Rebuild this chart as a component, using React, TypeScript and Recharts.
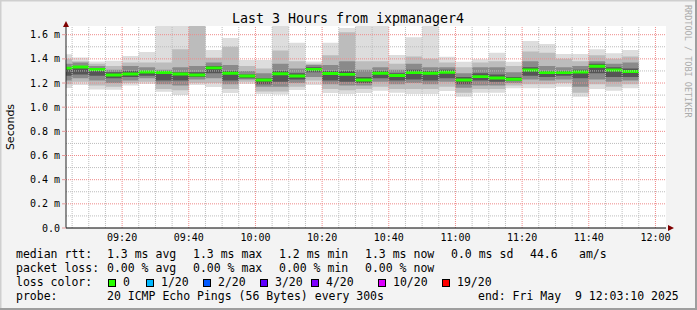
import { ComposedChart, Area, XAxis, YAxis, CartesianGrid, ReferenceLine } from "recharts"

// 5 minute slots (start times), last slot closes at slotEnd
const slotStart = [
  "09:00", "09:05", "09:10", "09:15", "09:20", "09:25", "09:30", "09:35", "09:40", "09:45", "09:50", "09:55",
  "10:00", "10:05", "10:10", "10:15", "10:20", "10:25", "10:30", "10:35", "10:40", "10:45", "10:50", "10:55",
  "11:00", "11:05", "11:10", "11:15", "11:20", "11:25", "11:30", "11:35", "11:40", "11:45", "11:50",
]
const slotEnd = "11:55"

// values in ms
const median = [1.323, 1.333, 1.312, 1.267, 1.275, 1.291, 1.287, 1.275, 1.267, 1.325, 1.281, 1.258, 1.225, 1.277, 1.258, 1.313, 1.279, 1.272, 1.225, 1.281, 1.262, 1.286, 1.281, 1.289, 1.225, 1.253, 1.242, 1.231, 1.308, 1.286, 1.286, 1.291, 1.339, 1.308, 1.296]
const pingMin = [1.159, 1.184, 1.147, 1.145, 1.18, 1.192, 1.128, 1.101, 1.184, 1.167, 1.118, 1.192, 1.109, 1.105, 1.142, 1.184, 1.118, 1.109, 1.118, 1.137, 1.12, 1.109, 1.109, 1.134, 1.087, 1.12, 1.12, 1.156, 1.156, 1.156, 1.17, 1.087, 1.151, 1.137, 1.156]
const pingMax = [1.438, 1.411, 1.378, 1.385, 1.424, 1.457, 1.8, 1.8, 1.8, 1.473, 1.573, 1.391, 1.391, 1.8, 1.534, 1.378, 1.534, 1.656, 1.8, 1.8, 1.432, 1.579, 1.8, 1.418, 1.377, 1.397, 1.451, 1.377, 1.548, 1.523, 1.44, 1.44, 1.479, 1.446, 1.473]
// outer-middle smoke
const lo1 = [1.19, 1.21, 1.18, 1.17, 1.2, 1.21, 1.15, 1.14, 1.2, 1.2, 1.15, 1.21, 1.13, 1.13, 1.17, 1.22, 1.15, 1.14, 1.15, 1.17, 1.15, 1.15, 1.15, 1.17, 1.12, 1.15, 1.15, 1.18, 1.19, 1.19, 1.2, 1.12, 1.19, 1.17, 1.19]
const hi1 = [1.4, 1.38, 1.36, 1.34, 1.37, 1.37, 1.37, 1.48, 1.8, 1.41, 1.5, 1.34, 1.32, 1.47, 1.38, 1.36, 1.43, 1.62, 1.38, 1.38, 1.36, 1.42, 1.4, 1.37, 1.33, 1.37, 1.38, 1.34, 1.46, 1.45, 1.4, 1.38, 1.43, 1.4, 1.42]
// inner-middle smoke
const lo2 = [1.22, 1.24, 1.22, 1.2, 1.22, 1.24, 1.19, 1.18, 1.23, 1.24, 1.19, 1.23, 1.17, 1.17, 1.2, 1.25, 1.19, 1.18, 1.18, 1.21, 1.19, 1.2, 1.19, 1.21, 1.16, 1.18, 1.18, 1.2, 1.23, 1.22, 1.23, 1.17, 1.23, 1.21, 1.22]
const hi2 = [1.36, 1.37, 1.34, 1.31, 1.34, 1.33, 1.31, 1.33, 1.34, 1.37, 1.35, 1.3, 1.28, 1.36, 1.32, 1.35, 1.35, 1.38, 1.31, 1.33, 1.31, 1.36, 1.33, 1.33, 1.28, 1.33, 1.33, 1.29, 1.38, 1.34, 1.33, 1.34, 1.38, 1.36, 1.37]
// core smoke
const lo3 = [1.26, 1.27, 1.26, 1.24, 1.25, 1.26, 1.22, 1.22, 1.25, 1.28, 1.22, 1.24, 1.19, 1.21, 1.23, 1.29, 1.22, 1.21, 1.2, 1.24, 1.22, 1.23, 1.22, 1.24, 1.19, 1.22, 1.21, 1.22, 1.26, 1.25, 1.26, 1.24, 1.28, 1.25, 1.25]
const hi3 = [1.33, 1.34, 1.32, 1.29, 1.3, 1.3, 1.29, 1.29, 1.29, 1.34, 1.3, 1.27, 1.24, 1.3, 1.28, 1.33, 1.3, 1.3, 1.25, 1.3, 1.28, 1.31, 1.3, 1.31, 1.25, 1.28, 1.27, 1.25, 1.33, 1.3, 1.3, 1.31, 1.36, 1.33, 1.32]

const xTickLabels = ["09:20", "09:40", "10:00", "10:20", "10:40", "11:00", "11:20", "11:40", "12:00"]
const yTicks = [0, 0.2, 0.4, 0.6, 0.8, 1.0, 1.2, 1.4, 1.6]
const yMinor = [0.1, 0.3, 0.5, 0.7, 0.9, 1.1, 1.3, 1.5]

const toMin = (s: string) => {
  const [h, m, sec] = s.split(":").map(Number)
  return (h - 9) * 60 + m + (sec || 0) / 60
}
const windowStart = toMin("09:03:10")
const windowEnd = toMin("12:03:10")
const xTicks = xTickLabels.map(toMin)
const xMinor: number[] = []
for (let m = 5; m < windowEnd; m += 5) if (!xTicks.includes(m)) xMinor.push(m)

const MED_HALF = 0.012 // half height of the median stripe

const rows: any[] = slotStart.map((s, i) => ({
  t: toMin(s),
  b0: [pingMin[i], pingMax[i]],
  b1: [lo1[i], hi1[i]],
  b2: [lo2[i], hi2[i]],
  b3: [lo3[i], hi3[i]],
  med: [median[i] - MED_HALF, median[i] + MED_HALF],
}))
rows.push({ ...rows[rows.length - 1], t: toMin(slotEnd) })

const mono = "DejaVu Sans Mono"
const lossColors = [
  { c: "#26ff00", l: "0", bx: 108, tx: 123 },
  { c: "#00b8ff", l: "1/20", bx: 146, tx: 161 },
  { c: "#0059ff", l: "2/20", bx: 203, tx: 218 },
  { c: "#5e00ff", l: "3/20", bx: 260, tx: 275 },
  { c: "#7e00ff", l: "4/20", bx: 311, tx: 326 },
  { c: "#dd00ff", l: "10/20", bx: 378, tx: 393 },
  { c: "#ff0000", l: "19/20", bx: 442, tx: 457 },
]

const bands = [
  { key: "b0", fill: "#dddddd" },
  { key: "b1", fill: "#bcbcbc" },
  { key: "b2", fill: "#8a8a8a" },
  { key: "b3", fill: "#555555" },
]

export default function App() {
  const txt = { fontFamily: mono, fontSize: 11.5, fill: "#000", whiteSpace: "pre" as const }
  return (
    <div style={{ position: "absolute", left: 0, top: 0, width: 697, height: 310, background: "#f3f3f3" }}>
      <ComposedChart width={697} height={310} data={rows} margin={{ top: 26, right: 31, bottom: 0, left: 0 }}>
        <CartesianGrid fill="#ffffff" horizontal={false} vertical={false} />
        <XAxis
          dataKey="t"
          type="number"
          domain={[windowStart, windowEnd]}
          allowDataOverflow
          ticks={xTicks}
          interval={0}
          tickFormatter={(v) => xTickLabels[xTicks.indexOf(v)]}
          height={82}
          tickSize={0}
          tickMargin={6}
          axisLine={{ stroke: "#000" }}
          tick={{ fontFamily: mono, fontSize: 10, fill: "#000" }}
        />
        <YAxis
          type="number"
          domain={[0, 1.672]}
          allowDataOverflow
          ticks={yTicks}
          interval={0}
          tickFormatter={(v) => (v === 0 ? "0.0" : `${v.toFixed(1)} m`)}
          width={66}
          tickSize={4}
          tickMargin={2}
          axisLine={{ stroke: "#222" }}
          tickLine={{ stroke: "#e39a9a" }}
          tick={{ fontFamily: mono, fontSize: 10, fill: "#000" }}
        />
        {bands.map((b) => (
          <Area
            key={b.key}
            dataKey={b.key}
            type="stepAfter"
            stroke="none"
            fill={b.fill}
            fillOpacity={1}
            dot={false}
            activeDot={false}
            isAnimationActive={false}
          />
        ))}
        <Area
          dataKey="med"
          type="stepAfter"
          stroke="none"
          fill="#26ff00"
          fillOpacity={1}
          dot={false}
          activeDot={false}
          isAnimationActive={false}
        />
        {yMinor.map((v) => (
          <ReferenceLine key={"ym" + v} y={v} stroke="#bdbdbd" strokeDasharray="1 1" />
        ))}
        {xMinor.map((v) => (
          <ReferenceLine key={"xm" + v} x={v} stroke="#bdbdbd" strokeDasharray="1 1" />
        ))}
        {yTicks.slice(1).map((v) => (
          <ReferenceLine key={"yM" + v} y={v} stroke="#ee8a8a" strokeDasharray="1 1" />
        ))}
        {xTicks.map((v) => (
          <ReferenceLine key={"xM" + v} x={v} stroke="#ee8a8a" strokeDasharray="1 1" />
        ))}
      </ComposedChart>
      <svg width={697} height={310} style={{ position: "absolute", left: 0, top: 0, pointerEvents: "none" }}>
        <rect x={0} y={0} width={697} height={1.5} fill="#cfcfcf" />
        <rect x={0} y={0} width={1.5} height={310} fill="#cfcfcf" />
        <rect x={695} y={0} width={2} height={310} fill="#9e9e9e" />
        <rect x={0} y={308} width={697} height={2} fill="#9e9e9e" />
        <polygon points="63,27 69,27 66,21" fill="#7f0000" />
        <polygon points="668,225 668,231 674,228" fill="#7f0000" />
        <text x={348} y={23} textAnchor="middle" fontFamily={mono} fontSize={13.3} fill="#000">
          Last 3 Hours from ixpmanager4
        </text>
        <text
          x={14}
          y={127}
          textAnchor="middle"
          fontFamily="DejaVu Sans"
          fontSize={11}
          fill="#000"
          transform="rotate(-90 14 127)"
        >
          Seconds
        </text>
        <text x={685} y={5} fontFamily={mono} fontSize={8.5} fill="#ababab" transform="rotate(90 685 5)">
          RRDTOOL / TOBI OETIKER
        </text>

        <text x={16} y={258} style={txt}>median rtt:</text>
        <text x={107} y={258} style={txt}>1.3 ms avg</text>
        <text x={193} y={258} style={txt}>1.3 ms max</text>
        <text x={279} y={258} style={txt}>1.2 ms min</text>
        <text x={365} y={258} style={txt}>1.3 ms now</text>
        <text x={451} y={258} style={txt}>0.0 ms sd</text>
        <text x={530} y={258} style={txt}>44.6</text>
        <text x={579} y={258} style={txt}>am/s</text>

        <text x={16} y={272} style={txt}>packet loss:</text>
        <text x={107} y={272} style={txt}>0.00 % avg</text>
        <text x={193} y={272} style={txt}>0.00 % max</text>
        <text x={279} y={272} style={txt}>0.00 % min</text>
        <text x={365} y={272} style={txt}>0.00 % now</text>

        <text x={16} y={286} style={txt}>loss color:</text>
        {lossColors.map((lc) => (
          <g key={lc.l}>
            <rect x={lc.bx + 0.5} y={279.5} width={7} height={7} fill={lc.c} stroke="#000" strokeWidth={1} />
            <text x={lc.tx} y={286} style={txt}>{lc.l}</text>
          </g>
        ))}

        <text x={16} y={300} style={txt}>probe:</text>
        <text x={107} y={300} style={txt}>20 ICMP Echo Pings (56 Bytes) every 300s</text>
        <text x={478} y={300} style={txt}>end: Fri May  9 12:03:10 2025</text>
      </svg>
    </div>
  )
}
